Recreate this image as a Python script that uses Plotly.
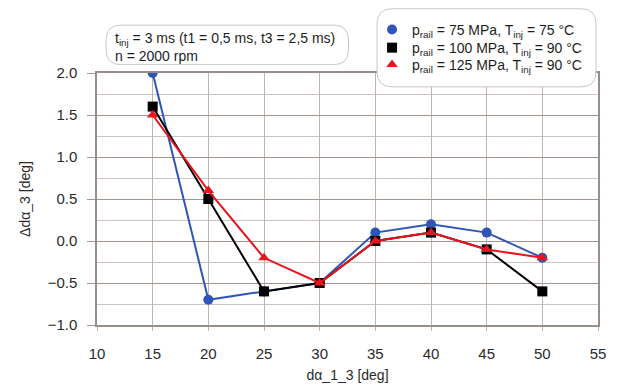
import plotly.graph_objects as go

x_vals = [15, 20, 25, 30, 35, 40, 45, 50]
y_75 = [2.0, -0.7, -0.6, -0.5, 0.1, 0.2, 0.1, -0.2]
y_100 = [1.6, 0.5, -0.6, -0.5, 0.0, 0.1, -0.1, -0.6]
y_125 = [1.5, 0.6, -0.2, -0.5, 0.0, 0.1, -0.1, -0.2]

names = [
    "p<sub>rail</sub> = 75 MPa, T<sub>inj</sub> = 75 °C",
    "p<sub>rail</sub> = 100 MPa, T<sub>inj</sub> = 90 °C",
    "p<sub>rail</sub> = 125 MPa, T<sub>inj</sub> = 90 °C",
]
colors = ["#2f55b8", "#000000", "#e8141e"]
symbols = ["circle", "square", "triangle-up"]
series = [y_75, y_100, y_125]
legend_ids = ["legend", "legend2", "legend3"]

fig = go.Figure()
for y, n, c, s in zip(series, names, colors, symbols):
    fig.add_trace(go.Scatter(
        x=x_vals, y=y, name=n, mode="lines+markers", showlegend=False,
        line=dict(color=c, width=2),
        marker=dict(color=c, symbol=s, size=10),
    ))
# legend entries: markers only, like the reference
for n, c, s, lg in zip(names, colors, symbols, legend_ids):
    fig.add_trace(go.Scatter(
        x=[None], y=[None], name=n, mode="markers", legend=lg,
        marker=dict(color=c, symbol=s, size=10),
    ))

def rrect(x0, y0, x1, y1, rx, ry):
    return (f"M {x0+rx},{y0} L {x1-rx},{y0} Q {x1},{y0} {x1},{y0+ry} "
            f"L {x1},{y1-ry} Q {x1},{y1} {x1-rx},{y1} L {x0+rx},{y1} "
            f"Q {x0},{y1} {x0},{y1-ry} L {x0},{y0+ry} Q {x0},{y0} {x0+rx},{y0} Z")

shapes = [
    dict(type="path", xref="paper", yref="paper",
         path=rrect(0.018, 1.033, 0.502, 1.19, 0.03, 0.06),
         line=dict(color="#c8c8c8", width=1), fillcolor="white", layer="above"),
    dict(type="path", xref="paper", yref="paper",
         path=rrect(0.559, 0.945, 0.996, 1.255, 0.03, 0.06),
         line=dict(color="#c8c8c8", width=1), fillcolor="white", layer="above"),
]

leg_common = dict(x=0.549, xanchor="left", yanchor="middle",
                  bgcolor="rgba(0,0,0,0)", borderwidth=0,
                  font=dict(size=14, color="#1e1e1e"), itemwidth=30)

fig.update_layout(
    width=618, height=385,
    margin=dict(l=97, r=20, t=73, b=60),
    paper_bgcolor="white", plot_bgcolor="white",
    font=dict(family="Liberation Sans, Arial, sans-serif", size=14, color="#2a2a2a"),
    shapes=shapes,
    showlegend=True,
    legend=dict(y=1.171, **leg_common),
    legend2=dict(y=1.099, **leg_common),
    legend3=dict(y=1.032, **leg_common),
    annotations=[dict(
        xref="paper", yref="paper", x=0.032, y=1.18, xanchor="left", yanchor="top",
        text="t<sub>inj</sub> = 3 ms (t1 = 0,5 ms, t3 = 2,5 ms)<br>n = 2000 rpm",
        showarrow=False, align="left", font=dict(size=14, color="#1e1e1e"),
    )],
)

fig.update_xaxes(
    range=[10, 55], dtick=5, tick0=10, automargin=False,
    showgrid=True, gridcolor="#bdb3af", gridwidth=1,
    showline=True, linecolor="#9a8e8a", linewidth=1.5, mirror=True,
    ticks="outside", ticklen=4, tickcolor="#bdb3af",
    ticklabelstandoff=10, ticklabeloverflow="allow",
    tickfont=dict(size=15),
    zeroline=False,
    title=dict(text="dα_1_3 [deg]", standoff=9, font=dict(size=14)),
)
fig.update_yaxes(
    range=[-1.0, 2.0], dtick=0.5, tick0=0, tickformat=".1f", automargin=False,
    showgrid=True, gridcolor="#a3948f", gridwidth=1.2,
    minor=dict(dtick=0.25, showgrid=True, gridcolor="#cdc5c2", gridwidth=1),
    showline=True, linecolor="#9a8e8a", linewidth=1.5, mirror=True,
    ticks="outside", ticklen=8, tickcolor="#a3948f",
    ticklabelstandoff=7,
    tickfont=dict(size=15),
    zeroline=False,
    title=dict(text="Δdα_3 [deg]", standoff=14, font=dict(size=14)),
)

fig.write_html("out.html", post_script="document.body.style.margin='0';",
               config={"displayModeBar": False})
